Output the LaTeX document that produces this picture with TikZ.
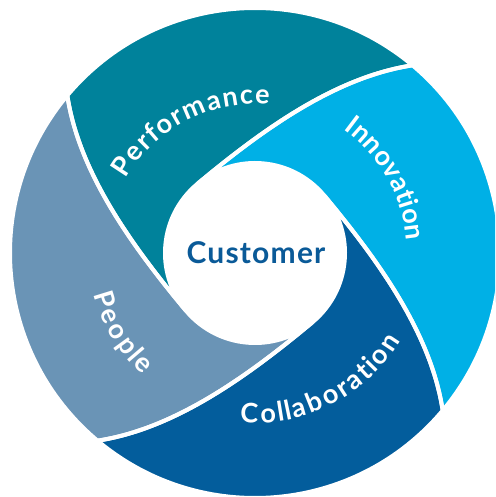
\documentclass[tikz,border=0pt]{standalone}
\usepackage{fontspec}
\setmainfont{Lato}
\newfontfamily\custfont{Lato}[LetterSpace=4]
\usetikzlibrary{decorations.text}
\definecolor{perfcol}{RGB}{0,130,155}
\definecolor{innocol}{RGB}{0,176,230}
\definecolor{collcol}{RGB}{3,93,156}
\definecolor{peopcol}{RGB}{106,148,182}
\definecolor{custcol}{RGB}{10,90,152}
\tikzset{
  seg/.style={insert path={(130:90) .. controls (3.7,120.1) and (78.3,175.7) .. (50:245)
     arc[start angle=50,end angle=-40,radius=245]
     .. controls (175.7,-78.3) and (120.1,-3.7) .. (40:90)
     arc[start angle=40,end angle=130,radius=90] -- cycle}},
  gap/.style={draw=white, line width=4pt, line join=round},
  lab/.style={decorate, decoration={text effects along path, text={#1},
     text effects/.cd, text along path, fit text to path,
     characters={text=white, font=\fontsize{27}{27}\selectfont\bfseries}}}
}
\begin{document}
\begin{tikzpicture}[x=1pt,y=1pt]
\useasboundingbox (-255,-244) rectangle (240,253);
\clip (-255,-244) rectangle (240,253);
\fill[white] (-255,-244) rectangle (240,253);
% segments
\begin{scope}[rotate=90]\fill[perfcol, seg];\end{scope}
\fill[innocol, seg];
\begin{scope}[rotate=-90]\fill[collcol, seg];\end{scope}
\begin{scope}[rotate=180]\fill[peopcol, seg];\end{scope}
% white gaps
\begin{scope}[rotate=90]\path[gap, seg];\end{scope}
\path[gap, seg];
\begin{scope}[rotate=-90]\path[gap, seg];\end{scope}
\begin{scope}[rotate=180]\path[gap, seg];\end{scope}
% labels
\path[lab=Performance] (150:149) arc[start angle=150, end angle=84.5, radius=149];
\path[lab=Innovation] (54.5:152) arc[start angle=54.5, end angle=4.5, radius=152];
\path[lab=Collaboration] (265:170) arc[start angle=265, end angle=329, radius=170];
\path[lab=People] (194.3:166) arc[start angle=194.3, end angle=227.3, radius=166];
\node[text=custcol, font=\custfont\fontsize{30}{30}\selectfont\bfseries] (cust) at (1,0) {Customer};
\end{tikzpicture}
\end{document}
